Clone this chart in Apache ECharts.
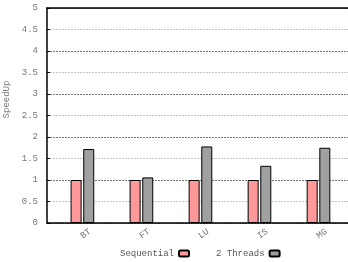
<!DOCTYPE html>
<html>
<head>
<meta charset="utf-8">
<script src="https://cdn.jsdelivr.net/npm/echarts@6/dist/echarts.min.js"></script>
<style>
  html, body { margin: 0; padding: 0; background: #fff; }
  #chart { width: 348px; height: 262px; }
</style>
</head>
<body>
<div id="chart"></div>
<script>
  const benchmarks = ['BT', 'FT', 'LU', 'IS', 'MG'];
  const sequential = [1, 1, 1, 1, 1];
  const twoThreads = [1.72, 1.06, 1.78, 1.33, 1.75];
  const seriesNames = ['Sequential', '2 Threads'];

  const mono = 'Liberation Mono';
  const positions = benchmarks.map((b, i) => i);

  const chart = echarts.init(document.getElementById('chart'));
  chart.setOption({
    animation: false,
    textStyle: { fontFamily: mono },
    grid: { left: 47, right: 0, top: 8, bottom: 39, outerBoundsMode: 'none', containLabel: false },
    legend: {
      bottom: -1,
      left: 115,
      align: 'right',
      itemWidth: 10,
      itemHeight: 6,
      itemGap: 26,
      textStyle: { fontFamily: mono, fontSize: 9, color: '#555' },
      data: seriesNames
    },
    xAxis: [
      {
        type: 'value',
        min: -0.6,
        max: 4.5,
        axisLine: { show: true, onZero: false, lineStyle: { color: '#000', width: 1.5 } },
        splitLine: { show: false },
        axisTick: { show: false },
        axisLabel: {
          customValues: positions,
          rotate: 35,
          margin: 13,
          color: '#777',
          fontFamily: mono,
          fontSize: 9,
          align: 'center',
          padding: [0, 0, 0, 8],
          formatter: (v) => benchmarks[Math.round(v)]
        }
      },
      {
        type: 'value',
        position: 'top',
        min: -0.6,
        max: 4.5,
        axisLine: { show: true, onZero: false, lineStyle: { color: '#000', width: 1.5 } },
        splitLine: { show: false },
        axisTick: { show: false },
        axisLabel: { show: false }
      }
    ],
    yAxis: {
      type: 'value',
      min: 0,
      max: 5,
      interval: 0.5,
      name: 'SpeedUp',
      nameLocation: 'middle',
      nameGap: 33,
      nameTextStyle: { fontFamily: mono, fontSize: 9, color: '#777', padding: [0, 0, 0, 32] },
      axisLine: { show: true, onZero: false, lineStyle: { color: '#000', width: 1.5 } },
      axisTick: { show: true, inside: true, length: 3, lineStyle: { color: '#000' } },
      axisLabel: { color: '#777', fontFamily: mono, fontSize: 9, margin: 9 },
      splitLine: {
        show: true,
        lineStyle: { color: ['#777', '#c4c4c4'], type: [2, 1], width: 1 }
      }
    },
    series: [
      {
        name: seriesNames[0],
        type: 'bar',
        barWidth: 11,
        barGap: '15%',
        itemStyle: { color: '#ff9999', borderColor: '#000', borderWidth: 1 },
        data: sequential.map((v, i) => [i, v])
      },
      {
        name: seriesNames[1],
        type: 'bar',
        barWidth: 11,
        barGap: '15%',
        itemStyle: { color: '#a0a0a0', borderColor: '#000', borderWidth: 1 },
        data: twoThreads.map((v, i) => [i, v])
      }
    ]
  });
</script>
</body>
</html>
